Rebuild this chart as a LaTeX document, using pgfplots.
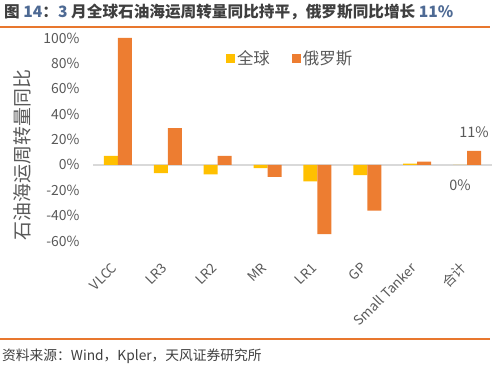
\documentclass[border=0pt]{standalone}
\usepackage{pgfplots}
\pgfplotsset{compat=1.18}
\usepackage{fontspec}
\setmainfont{Noto Sans CJK SC}
\definecolor{cYellow}{HTML}{FFC000}
\definecolor{cOrange}{HTML}{ED7D31}
\definecolor{cTick}{HTML}{595959}
\definecolor{cTitle}{HTML}{3F3F3F}
\definecolor{cNum}{HTML}{4E6A94}
\definecolor{cRule}{HTML}{E8772E}
\begin{document}
\begin{tikzpicture}
\path[use as bounding box] (0,0) rectangle (493bp,366bp);
% title and rules
\node[anchor=west, text=cTitle, font=\fontsize{15.7}{17}\selectfont\bfseries, inner sep=0] at (4bp,354bp)
  {图 \textcolor{cNum}{14}：\textcolor{cNum}{3} 月全球石油海运周转量同比持平，俄罗斯同比增长 \textcolor{cNum}{11\%}};
\draw[cRule, line width=1.3bp] (0bp,339bp) -- (490bp,339bp);
\draw[cRule, line width=1.3bp] (0bp,27bp) -- (490bp,27bp);
\node[anchor=west, text=cTitle, font=\fontsize{13.8}{15}\selectfont, inner sep=0] at (2bp,10bp)
  {资料来源：Wind，Kpler，天风证券研究所};
\node[rotate=90, text=cTick, font=\fontsize{19}{20}\selectfont, inner sep=0] at (22bp,211bp)
  {石油海运周转量同比};
\begin{axis}[
  at={(93bp,125bp)}, anchor=south west,
  scale only axis, width=399bp, height=203bp,
  xmin=-0.5, xmax=7.5, ymin=-60, ymax=100,
  ybar=0pt, bar width=14bp,
  axis line style={draw=none},
  major tick length=0pt,
  xtick={0,...,7},
  xticklabels={VLCC,LR3,LR2,MR,LR1,GP,Small Tanker,合计},
  xticklabel style={font=\fontsize{13.5}{14}\selectfont, text=cTick, xshift=-1bp, yshift=-22bp, anchor=east, rotate=45},
  ytick={-60,-40,...,100},
  yticklabel={\pgfmathprintnumber{\tick}\%},
  /pgf/number format/assume math mode=true,
  yticklabel style={font=\fontsize{14}{15}\selectfont, text=cTick, xshift=-10bp},
  extra y ticks={0}, extra y tick labels={},
  extra y tick style={grid=major, major grid style={color=black!15, line width=1.3bp}},
  legend style={at={(0.333,0.90)}, anchor=west, draw=none, fill=none, inner sep=0pt,
    font=\fontsize{16.5}{18}\selectfont, text=cTick, legend columns=2,
    /tikz/every even column/.append style={column sep=20bp}},
  legend image code/.code={\fill[#1] (0bp,-4.5bp) rectangle (9bp,4.5bp);},
  point meta=explicit symbolic,
  nodes near coords,
  nodes near coords style={font=\fontsize{14.5}{15}\selectfont, text=cTick},
]
\addplot[fill=cYellow, draw=none,
  every node near coord/.append style={anchor=north, yshift=-11bp}]
  coordinates {(0,7) [] (1,-6.5) [] (2,-7.5) [] (3,-2.5) [] (4,-13) [] (5,-8) [] (6,1) [] (7,0) [0\%]};
\addlegendentry{全球}
\addplot[fill=cOrange, draw=none,
  every node near coord/.append style={anchor=south, yshift=10bp}]
  coordinates {(0,100) [] (1,29) [] (2,7) [] (3,-9.5) [] (4,-54.5) [] (5,-36) [] (6,2.5) [] (7,11) [11\%]};
\addlegendentry{俄罗斯}
\end{axis}
\end{tikzpicture}
\end{document}
